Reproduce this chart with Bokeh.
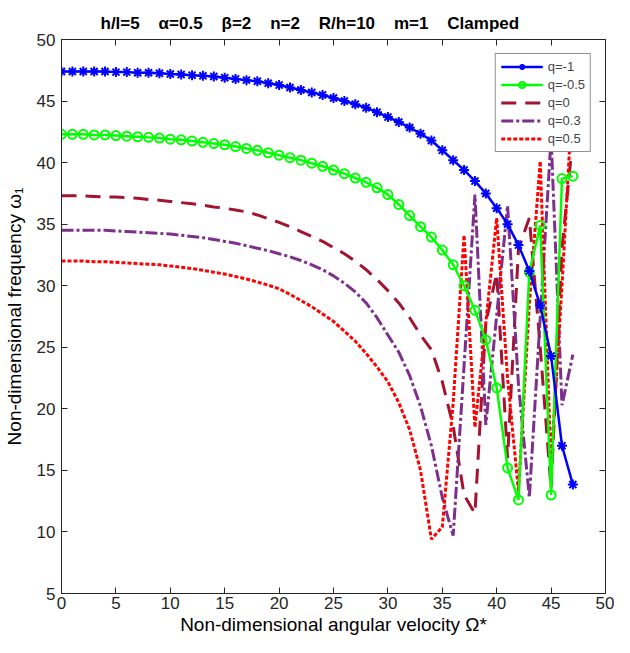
from bokeh.plotting import figure
from bokeh.models import LinearAxis, Range1d, FixedTicker, Legend, LegendItem
from bokeh.embed import file_html
from bokeh.resources import INLINE

# ---- data ----
omega = list(range(0, 48))

q_m1 = [47.4, 47.4, 47.4, 47.4, 47.4, 47.35, 47.35, 47.3, 47.3, 47.25,
        47.2, 47.15, 47.1, 47.05, 47.0, 46.9, 46.8, 46.7, 46.6, 46.45,
        46.3, 46.1, 45.9, 45.7, 45.5, 45.25, 45.0, 44.75, 44.45, 44.1,
        43.7, 43.3, 42.85, 42.35, 41.8, 41.0, 40.2, 39.4, 38.5, 37.5,
        36.3, 35.0, 33.3, 31.2, 28.4, 24.3, 17.0, 13.85]

q_m05 = [42.3, 42.3, 42.3, 42.25, 42.25, 42.2, 42.15, 42.1, 42.05, 42.0,
         41.9, 41.85, 41.75, 41.65, 41.55, 41.45, 41.3, 41.15, 41.0, 40.8,
         40.6, 40.4, 40.2, 39.95, 39.7, 39.4, 39.1, 38.75, 38.4, 37.95,
         37.4, 36.6, 35.7, 34.8, 33.95, 32.9, 31.7, 30.0, 28.0, 25.6,
         21.7, 15.2, 12.6, 31.1, 34.9, 13.0, 38.7, 38.9]

q_0 = [37.3, 37.3, 37.3, 37.25, 37.2, 37.2, 37.15, 37.1, 37.0, 36.95,
       36.85, 36.75, 36.65, 36.55, 36.4, 36.3, 36.15, 36.0, 35.75, 35.45,
       35.15, 34.8, 34.4, 34.0, 33.6, 33.1, 32.6, 32.0, 31.3, 30.5,
       29.6, 28.6, 27.4, 26.0, 24.8, 22.2, 18.6, 13.0, 11.5, 27.0,
       31.0, 16.0, 33.0, 35.5, 25.0, 13.5, 33.0, 42.0]

q_03 = [34.5, 34.5, 34.5, 34.5, 34.5, 34.45, 34.4, 34.35, 34.3, 34.25,
        34.2, 34.1, 34.0, 33.9, 33.75, 33.6, 33.45, 33.25, 33.05, 32.85,
        32.6, 32.35, 32.05, 31.7, 31.3, 30.8, 30.2, 29.5, 28.6, 27.4,
        26.0, 24.6, 22.7, 20.2, 17.0, 12.8, 9.7, 23.5, 37.4, 18.7,
        27.6, 36.5, 22.0, 12.8, 27.4, 42.0, 20.3, 24.4]

q_05 = [32.0, 32.0, 32.0, 31.95, 31.95, 31.9, 31.85, 31.8, 31.75, 31.7,
        31.6, 31.5, 31.4, 31.25, 31.1, 30.95, 30.75, 30.55, 30.3, 30.05,
        29.75, 29.3, 28.8, 28.3, 27.7, 27.1, 26.3, 25.5, 24.5, 23.4,
        22.2, 20.5, 18.3, 15.0, 9.4, 10.4, 20.5, 34.1, 18.5, 27.0,
        35.5, 22.5, 13.3, 28.5, 40.1, 15.5, 30.0, 46.0]

labels = ["q=-1", "q=-0.5", "q=0", "q=0.3", "q=0.5"]
x_ticks = [0, 5, 10, 15, 20, 25, 30, 35, 40, 45, 50]
y_ticks = [5, 10, 15, 20, 25, 30, 35, 40, 45, 50]

FONT = "Liberation Sans"
AX = "#262626"
NB = "\u00a0" * 4
title_text = NB.join(["h/l=5", "\u03b1=0.5", "\u03b2=2", "n=2", "R/h=10", "m=1", "Clamped"])

p = figure(width=614, height=637, x_range=Range1d(0, 50), y_range=Range1d(5, 50),
           output_backend="svg", toolbar_location=None,
           min_border_left=61, min_border_right=9, min_border_top=39, min_border_bottom=43)

p.title.text = title_text
p.title.align = "left"
p.title.offset = 39
p.title.text_font = FONT
p.title.text_font_size = "17px"
p.title.text_font_style = "bold"
p.title.text_color = "#000000"
p.title.standoff = 13

p.xgrid.visible = False
p.ygrid.visible = False
p.outline_line_color = AX
p.outline_line_width = 1
p.background_fill_color = "white"
p.border_fill_color = "white"

for ax, ticks in ((p.xaxis, x_ticks), (p.yaxis, y_ticks)):
    ax.ticker = FixedTicker(ticks=ticks)
    ax.major_tick_in = 6
    ax.major_tick_out = 0
    ax.minor_tick_in = 0
    ax.minor_tick_out = 0
    ax.axis_line_color = AX
    ax.major_tick_line_color = AX
    ax.major_label_text_font = FONT
    ax.major_label_text_font_size = "17px"
    ax.major_label_text_color = "#262626"
    ax.axis_label_text_font = FONT
    ax.axis_label_text_font_size = "19px"
    ax.axis_label_text_font_style = "normal"
    ax.axis_label_text_color = "#000000"

p.xaxis.axis_label = "Non-dimensional angular velocity \u03a9*"
p.yaxis.axis_label = "Non-dimensional frequency \u03c9\u2081"
p.xaxis.major_label_standoff = 3
p.xaxis.axis_label_standoff = 2
p.yaxis.major_label_standoff = 6
p.yaxis.axis_label_standoff = 9

blank_x = {t: "" for t in x_ticks}
blank_y = {t: "" for t in y_ticks}
top = LinearAxis(ticker=FixedTicker(ticks=x_ticks), major_label_overrides=blank_x,
                 major_tick_in=6, major_tick_out=0, minor_tick_in=0, minor_tick_out=0,
                 major_label_standoff=0, axis_line_color=AX, major_tick_line_color=AX)
right = LinearAxis(ticker=FixedTicker(ticks=y_ticks), major_label_overrides=blank_y,
                   major_tick_in=6, major_tick_out=0, minor_tick_in=0, minor_tick_out=0,
                   major_label_standoff=0, axis_line_color=AX, major_tick_line_color=AX)
p.add_layout(top, "above")
p.add_layout(right, "right")

BLUE = "#0000FF"
GREEN = "#00FF00"
DRED = "#A2142F"
PURP = "#7E2F8E"
RED = "#FF0000"

r_dr = p.line(omega, q_0, line_color=DRED, line_width=3, line_dash="15 9")
r_pu = p.line(omega, q_03, line_color=PURP, line_width=3, line_dash="12 3 3 3")
r_rd = p.line(omega, q_05, line_color=RED, line_width=3, line_dash="4 2")
r_gl = p.line(omega, q_m05, line_color=GREEN, line_width=2.5)
r_gm = p.scatter(omega, q_m05, marker="circle", size=9, fill_color=None,
                 line_color=GREEN, line_width=2)
r_bl = p.line(omega, q_m1, line_color=BLUE, line_width=2.5)
r_bm = p.scatter(omega, q_m1, marker="asterisk", size=10, line_color=BLUE, line_width=2)

legend = Legend(items=[
    LegendItem(label=labels[0], renderers=[r_bl, r_bm]),
    LegendItem(label=labels[1], renderers=[r_gl, r_gm]),
    LegendItem(label=labels[2], renderers=[r_dr]),
    LegendItem(label=labels[3], renderers=[r_pu]),
    LegendItem(label=labels[4], renderers=[r_rd]),
], location="top_right")
legend.margin = 14
legend.padding = 5
legend.spacing = 3
legend.glyph_width = 42
legend.glyph_height = 15
legend.label_height = 15
legend.label_standoff = 5
legend.label_text_font = FONT
legend.label_text_font_size = "13px"
legend.border_line_color = AX
legend.border_line_width = 1
legend.background_fill_color = "white"
legend.background_fill_alpha = 1
p.add_layout(legend)

open("out.html", "w").write(file_html(p, INLINE))
